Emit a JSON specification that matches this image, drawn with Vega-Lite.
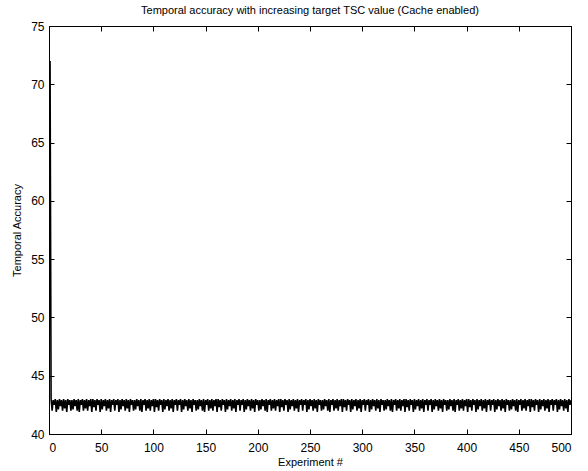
{
  "$schema": "https://vega.github.io/schema/vega-lite/v6.json",
  "width": 522,
  "height": 408,
  "autosize": {"type": "none"},
  "padding": {"left": 49, "top": 26, "right": 17, "bottom": 37},
  "background": "white",
  "config": {
    "view": {"stroke": "black", "strokeWidth": 1},
    "font": "Liberation Sans",
    "axis": {"labelFont": "Liberation Sans", "titleFont": "Liberation Sans", "labelFontSize": 12, "titleFontSize": 11, "labelColor": "black", "titleColor": "black", "titleFontWeight": "normal", "domainColor": "black", "tickColor": "black", "grid": false, "tickSize": -5}
  },
  "title": {"text": "Temporal accuracy with increasing target TSC value (Cache enabled)", "fontSize": 11, "fontWeight": "normal", "font": "Liberation Sans", "color": "black", "offset": 4},
  "data": {"values": [
    {"x":1,"y":72.0},
    {"x":2,"y":43.0},{"x":3,"y":42.0},{"x":4,"y":42.9},{"x":5,"y":42.5},{"x":6,"y":43.0},{"x":7,"y":41.9},{"x":8,"y":42.9},{"x":9,"y":42.1},{"x":10,"y":43.0},{"x":11,"y":42.4},{"x":12,"y":42.9},{"x":13,"y":42.0},{"x":14,"y":43.0},{"x":15,"y":42.2},{"x":16,"y":42.9},{"x":17,"y":41.9},{"x":18,"y":43.0},{"x":19,"y":42.5},{"x":20,"y":42.9},{"x":21,"y":42.0},
    {"x":22,"y":42.9},{"x":23,"y":42.1},{"x":24,"y":43.0},{"x":25,"y":42.4},{"x":26,"y":42.9},{"x":27,"y":42.0},{"x":28,"y":43.0},{"x":29,"y":41.9},{"x":30,"y":42.9},{"x":31,"y":42.5},{"x":32,"y":43.0},{"x":33,"y":42.0},{"x":34,"y":42.9},{"x":35,"y":42.2},{"x":36,"y":43.0},{"x":37,"y":42.0},{"x":38,"y":42.9},{"x":39,"y":42.4},{"x":40,"y":43.0},{"x":41,"y":41.9},
    {"x":42,"y":43.0},{"x":43,"y":42.3},{"x":44,"y":42.9},{"x":45,"y":42.0},{"x":46,"y":43.0},{"x":47,"y":42.5},{"x":48,"y":42.9},{"x":49,"y":41.9},{"x":50,"y":43.0},{"x":51,"y":42.1},{"x":52,"y":42.9},{"x":53,"y":42.4},{"x":54,"y":43.0},{"x":55,"y":42.0},{"x":56,"y":42.9},{"x":57,"y":42.2},{"x":58,"y":43.0},{"x":59,"y":41.9},{"x":60,"y":42.9},{"x":61,"y":42.5},
    {"x":62,"y":43.0},{"x":63,"y":42.0},{"x":64,"y":42.9},{"x":65,"y":42.5},{"x":66,"y":43.0},{"x":67,"y":41.9},{"x":68,"y":42.9},{"x":69,"y":42.1},{"x":70,"y":43.0},{"x":71,"y":42.4},{"x":72,"y":42.9},{"x":73,"y":42.0},{"x":74,"y":43.0},{"x":75,"y":42.2},{"x":76,"y":42.9},{"x":77,"y":41.9},{"x":78,"y":43.0},{"x":79,"y":42.5},{"x":80,"y":42.9},{"x":81,"y":42.0},
    {"x":82,"y":42.9},{"x":83,"y":42.1},{"x":84,"y":43.0},{"x":85,"y":42.4},{"x":86,"y":42.9},{"x":87,"y":42.0},{"x":88,"y":43.0},{"x":89,"y":41.9},{"x":90,"y":42.9},{"x":91,"y":42.5},{"x":92,"y":43.0},{"x":93,"y":42.0},{"x":94,"y":42.9},{"x":95,"y":42.2},{"x":96,"y":43.0},{"x":97,"y":42.0},{"x":98,"y":42.9},{"x":99,"y":42.4},{"x":100,"y":43.0},{"x":101,"y":41.9},
    {"x":102,"y":43.0},{"x":103,"y":42.3},{"x":104,"y":42.9},{"x":105,"y":42.0},{"x":106,"y":43.0},{"x":107,"y":42.5},{"x":108,"y":42.9},{"x":109,"y":41.9},{"x":110,"y":43.0},{"x":111,"y":42.1},{"x":112,"y":42.9},{"x":113,"y":42.4},{"x":114,"y":43.0},{"x":115,"y":42.0},{"x":116,"y":42.9},{"x":117,"y":42.2},{"x":118,"y":43.0},{"x":119,"y":41.9},{"x":120,"y":42.9},{"x":121,"y":42.5},
    {"x":122,"y":43.0},{"x":123,"y":42.0},{"x":124,"y":42.9},{"x":125,"y":42.5},{"x":126,"y":43.0},{"x":127,"y":41.9},{"x":128,"y":42.9},{"x":129,"y":42.1},{"x":130,"y":43.0},{"x":131,"y":42.4},{"x":132,"y":42.9},{"x":133,"y":42.0},{"x":134,"y":43.0},{"x":135,"y":42.2},{"x":136,"y":42.9},{"x":137,"y":41.9},{"x":138,"y":43.0},{"x":139,"y":42.5},{"x":140,"y":42.9},{"x":141,"y":42.0},
    {"x":142,"y":42.9},{"x":143,"y":42.1},{"x":144,"y":43.0},{"x":145,"y":42.4},{"x":146,"y":42.9},{"x":147,"y":42.0},{"x":148,"y":43.0},{"x":149,"y":41.9},{"x":150,"y":42.9},{"x":151,"y":42.5},{"x":152,"y":43.0},{"x":153,"y":42.0},{"x":154,"y":42.9},{"x":155,"y":42.2},{"x":156,"y":43.0},{"x":157,"y":42.0},{"x":158,"y":42.9},{"x":159,"y":42.4},{"x":160,"y":43.0},{"x":161,"y":41.9},
    {"x":162,"y":43.0},{"x":163,"y":42.3},{"x":164,"y":42.9},{"x":165,"y":42.0},{"x":166,"y":43.0},{"x":167,"y":42.5},{"x":168,"y":42.9},{"x":169,"y":41.9},{"x":170,"y":43.0},{"x":171,"y":42.1},{"x":172,"y":42.9},{"x":173,"y":42.4},{"x":174,"y":43.0},{"x":175,"y":42.0},{"x":176,"y":42.9},{"x":177,"y":42.2},{"x":178,"y":43.0},{"x":179,"y":41.9},{"x":180,"y":42.9},{"x":181,"y":42.5},
    {"x":182,"y":43.0},{"x":183,"y":42.0},{"x":184,"y":42.9},{"x":185,"y":42.5},{"x":186,"y":43.0},{"x":187,"y":41.9},{"x":188,"y":42.9},{"x":189,"y":42.1},{"x":190,"y":43.0},{"x":191,"y":42.4},{"x":192,"y":42.9},{"x":193,"y":42.0},{"x":194,"y":43.0},{"x":195,"y":42.2},{"x":196,"y":42.9},{"x":197,"y":41.9},{"x":198,"y":43.0},{"x":199,"y":42.5},{"x":200,"y":42.9},{"x":201,"y":42.0},
    {"x":202,"y":42.9},{"x":203,"y":42.1},{"x":204,"y":43.0},{"x":205,"y":42.4},{"x":206,"y":42.9},{"x":207,"y":42.0},{"x":208,"y":43.0},{"x":209,"y":41.9},{"x":210,"y":42.9},{"x":211,"y":42.5},{"x":212,"y":43.0},{"x":213,"y":42.0},{"x":214,"y":42.9},{"x":215,"y":42.2},{"x":216,"y":43.0},{"x":217,"y":42.0},{"x":218,"y":42.9},{"x":219,"y":42.4},{"x":220,"y":43.0},{"x":221,"y":41.9},
    {"x":222,"y":43.0},{"x":223,"y":42.3},{"x":224,"y":42.9},{"x":225,"y":42.0},{"x":226,"y":43.0},{"x":227,"y":42.5},{"x":228,"y":42.9},{"x":229,"y":41.9},{"x":230,"y":43.0},{"x":231,"y":42.1},{"x":232,"y":42.9},{"x":233,"y":42.4},{"x":234,"y":43.0},{"x":235,"y":42.0},{"x":236,"y":42.9},{"x":237,"y":42.2},{"x":238,"y":43.0},{"x":239,"y":41.9},{"x":240,"y":42.9},{"x":241,"y":42.5},
    {"x":242,"y":43.0},{"x":243,"y":42.0},{"x":244,"y":42.9},{"x":245,"y":42.5},{"x":246,"y":43.0},{"x":247,"y":41.9},{"x":248,"y":42.9},{"x":249,"y":42.1},{"x":250,"y":43.0},{"x":251,"y":42.4},{"x":252,"y":42.9},{"x":253,"y":42.0},{"x":254,"y":43.0},{"x":255,"y":42.2},{"x":256,"y":42.9},{"x":257,"y":41.9},{"x":258,"y":43.0},{"x":259,"y":42.5},{"x":260,"y":42.9},{"x":261,"y":42.0},
    {"x":262,"y":42.9},{"x":263,"y":42.1},{"x":264,"y":43.0},{"x":265,"y":42.4},{"x":266,"y":42.9},{"x":267,"y":42.0},{"x":268,"y":43.0},{"x":269,"y":41.9},{"x":270,"y":42.9},{"x":271,"y":42.5},{"x":272,"y":43.0},{"x":273,"y":42.0},{"x":274,"y":42.9},{"x":275,"y":42.2},{"x":276,"y":43.0},{"x":277,"y":42.0},{"x":278,"y":42.9},{"x":279,"y":42.4},{"x":280,"y":43.0},{"x":281,"y":41.9},
    {"x":282,"y":43.0},{"x":283,"y":42.3},{"x":284,"y":42.9},{"x":285,"y":42.0},{"x":286,"y":43.0},{"x":287,"y":42.5},{"x":288,"y":42.9},{"x":289,"y":41.9},{"x":290,"y":43.0},{"x":291,"y":42.1},{"x":292,"y":42.9},{"x":293,"y":42.4},{"x":294,"y":43.0},{"x":295,"y":42.0},{"x":296,"y":42.9},{"x":297,"y":42.2},{"x":298,"y":43.0},{"x":299,"y":41.9},{"x":300,"y":42.9},{"x":301,"y":42.5},
    {"x":302,"y":43.0},{"x":303,"y":42.0},{"x":304,"y":42.9},{"x":305,"y":42.5},{"x":306,"y":43.0},{"x":307,"y":41.9},{"x":308,"y":42.9},{"x":309,"y":42.1},{"x":310,"y":43.0},{"x":311,"y":42.4},{"x":312,"y":42.9},{"x":313,"y":42.0},{"x":314,"y":43.0},{"x":315,"y":42.2},{"x":316,"y":42.9},{"x":317,"y":41.9},{"x":318,"y":43.0},{"x":319,"y":42.5},{"x":320,"y":42.9},{"x":321,"y":42.0},
    {"x":322,"y":42.9},{"x":323,"y":42.1},{"x":324,"y":43.0},{"x":325,"y":42.4},{"x":326,"y":42.9},{"x":327,"y":42.0},{"x":328,"y":43.0},{"x":329,"y":41.9},{"x":330,"y":42.9},{"x":331,"y":42.5},{"x":332,"y":43.0},{"x":333,"y":42.0},{"x":334,"y":42.9},{"x":335,"y":42.2},{"x":336,"y":43.0},{"x":337,"y":42.0},{"x":338,"y":42.9},{"x":339,"y":42.4},{"x":340,"y":43.0},{"x":341,"y":41.9},
    {"x":342,"y":43.0},{"x":343,"y":42.3},{"x":344,"y":42.9},{"x":345,"y":42.0},{"x":346,"y":43.0},{"x":347,"y":42.5},{"x":348,"y":42.9},{"x":349,"y":41.9},{"x":350,"y":43.0},{"x":351,"y":42.1},{"x":352,"y":42.9},{"x":353,"y":42.4},{"x":354,"y":43.0},{"x":355,"y":42.0},{"x":356,"y":42.9},{"x":357,"y":42.2},{"x":358,"y":43.0},{"x":359,"y":41.9},{"x":360,"y":42.9},{"x":361,"y":42.5},
    {"x":362,"y":43.0},{"x":363,"y":42.0},{"x":364,"y":42.9},{"x":365,"y":42.5},{"x":366,"y":43.0},{"x":367,"y":41.9},{"x":368,"y":42.9},{"x":369,"y":42.1},{"x":370,"y":43.0},{"x":371,"y":42.4},{"x":372,"y":42.9},{"x":373,"y":42.0},{"x":374,"y":43.0},{"x":375,"y":42.2},{"x":376,"y":42.9},{"x":377,"y":41.9},{"x":378,"y":43.0},{"x":379,"y":42.5},{"x":380,"y":42.9},{"x":381,"y":42.0},
    {"x":382,"y":42.9},{"x":383,"y":42.1},{"x":384,"y":43.0},{"x":385,"y":42.4},{"x":386,"y":42.9},{"x":387,"y":42.0},{"x":388,"y":43.0},{"x":389,"y":41.9},{"x":390,"y":42.9},{"x":391,"y":42.5},{"x":392,"y":43.0},{"x":393,"y":42.0},{"x":394,"y":42.9},{"x":395,"y":42.2},{"x":396,"y":43.0},{"x":397,"y":42.0},{"x":398,"y":42.9},{"x":399,"y":42.4},{"x":400,"y":43.0},{"x":401,"y":41.9},
    {"x":402,"y":43.0},{"x":403,"y":42.3},{"x":404,"y":42.9},{"x":405,"y":42.0},{"x":406,"y":43.0},{"x":407,"y":42.5},{"x":408,"y":42.9},{"x":409,"y":41.9},{"x":410,"y":43.0},{"x":411,"y":42.1},{"x":412,"y":42.9},{"x":413,"y":42.4},{"x":414,"y":43.0},{"x":415,"y":42.0},{"x":416,"y":42.9},{"x":417,"y":42.2},{"x":418,"y":43.0},{"x":419,"y":41.9},{"x":420,"y":42.9},{"x":421,"y":42.5},
    {"x":422,"y":43.0},{"x":423,"y":42.0},{"x":424,"y":42.9},{"x":425,"y":42.5},{"x":426,"y":43.0},{"x":427,"y":41.9},{"x":428,"y":42.9},{"x":429,"y":42.1},{"x":430,"y":43.0},{"x":431,"y":42.4},{"x":432,"y":42.9},{"x":433,"y":42.0},{"x":434,"y":43.0},{"x":435,"y":42.2},{"x":436,"y":42.9},{"x":437,"y":41.9},{"x":438,"y":43.0},{"x":439,"y":42.5},{"x":440,"y":42.9},{"x":441,"y":42.0},
    {"x":442,"y":42.9},{"x":443,"y":42.1},{"x":444,"y":43.0},{"x":445,"y":42.4},{"x":446,"y":42.9},{"x":447,"y":42.0},{"x":448,"y":43.0},{"x":449,"y":41.9},{"x":450,"y":42.9},{"x":451,"y":42.5},{"x":452,"y":43.0},{"x":453,"y":42.0},{"x":454,"y":42.9},{"x":455,"y":42.2},{"x":456,"y":43.0},{"x":457,"y":42.0},{"x":458,"y":42.9},{"x":459,"y":42.4},{"x":460,"y":43.0},{"x":461,"y":41.9},
    {"x":462,"y":43.0},{"x":463,"y":42.3},{"x":464,"y":42.9},{"x":465,"y":42.0},{"x":466,"y":43.0},{"x":467,"y":42.5},{"x":468,"y":42.9},{"x":469,"y":41.9},{"x":470,"y":43.0},{"x":471,"y":42.1},{"x":472,"y":42.9},{"x":473,"y":42.4},{"x":474,"y":43.0},{"x":475,"y":42.0},{"x":476,"y":42.9},{"x":477,"y":42.2},{"x":478,"y":43.0},{"x":479,"y":41.9},{"x":480,"y":42.9},{"x":481,"y":42.5},
    {"x":482,"y":43.0},{"x":483,"y":42.0},{"x":484,"y":42.9},{"x":485,"y":42.5},{"x":486,"y":43.0},{"x":487,"y":41.9},{"x":488,"y":42.9},{"x":489,"y":42.1},{"x":490,"y":43.0},{"x":491,"y":42.4},{"x":492,"y":42.9},{"x":493,"y":42.0},{"x":494,"y":43.0},{"x":495,"y":42.2},{"x":496,"y":42.9},{"x":497,"y":41.9},{"x":498,"y":43.0},{"x":499,"y":42.5},{"x":500,"y":42.9}
  ]},
  "layer": [
    {
      "mark": {"type": "line", "color": "black", "strokeWidth": 1.6, "clip": true},
      "encoding": {
        "x": {"field": "x", "type": "quantitative", "scale": {"domain": [0, 500], "nice": false, "zero": false}, "axis": {"orient": "bottom", "values": [0,50,100,150,200,250,300,350,400,450,500], "title": "Experiment #", "titlePadding": 3, "labelPadding": 13}},
        "y": {"field": "y", "type": "quantitative", "scale": {"domain": [40, 75], "nice": false, "zero": false}, "axis": {"orient": "left", "values": [40,45,50,55,60,65,70,75], "title": "Temporal Accuracy", "titlePadding": 8, "labelPadding": 10}}
      }
    },
    {
      "mark": {"type": "line", "strokeOpacity": 0},
      "encoding": {
        "x": {"field": "x", "type": "quantitative", "axis": {"orient": "top", "values": [0,50,100,150,200,250,300,350,400,450,500], "labels": false, "title": null}},
        "y": {"field": "y", "type": "quantitative", "axis": {"orient": "right", "values": [40,45,50,55,60,65,70,75], "labels": false, "title": null}}
      }
    }
  ],
  "resolve": {"axis": {"x": "independent", "y": "independent"}}
}
